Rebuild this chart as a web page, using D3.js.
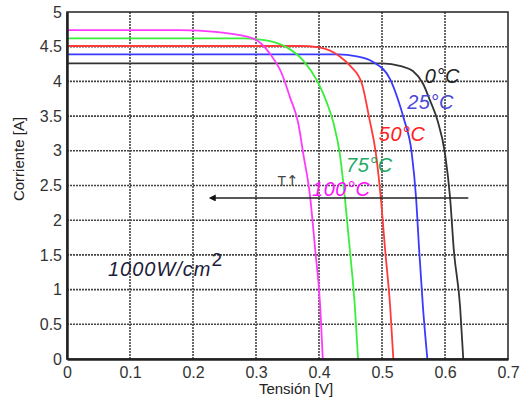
<!DOCTYPE html>
<html>
<head>
<meta charset="utf-8">
<script src="https://cdn.jsdelivr.net/npm/d3@7"></script>
<style>
  body { margin: 0; background: #fff; }
  svg text { font-family: "Liberation Sans", Arial, sans-serif; }
</style>
</head>
<body>
<div id="svg"></div>
<script>
// tick values and labels
var xTicks = [0, 0.1, 0.2, 0.3, 0.4, 0.5, 0.6, 0.7];
var xTickLabels = ["0", "0.1", "0.2", "0.3", "0.4", "0.5", "0.6", "0.7"];
var yTicks = [0, 0.5, 1, 1.5, 2, 2.5, 3, 3.5, 4, 4.5, 5];
var yTickLabels = ["0", "0.5", "1", "1.5", "2", "2.5", "3", "3.5", "4", "4.5", "5"];

// I-V curves, [V, A]
var temps = ["0°C", "25°C", "50°C", "75°C", "100°C"];
var curve0 = [[0,4.26],[0.50,4.26],[0.53,4.22],[0.549,4.15],[0.565,3.97],[0.576,3.73],[0.588,3.44],[0.600,2.96],[0.608,2.33],[0.614,1.57],[0.624,0.75],[0.629,0]];
var curve25 = [[0,4.39],[0.43,4.39],[0.46,4.36],[0.486,4.28],[0.513,4.03],[0.525,3.75],[0.535,3.45],[0.547,2.98],[0.554,2.33],[0.559,1.57],[0.565,0.75],[0.572,0]];
var curve50 = [[0,4.51],[0.37,4.51],[0.40,4.49],[0.433,4.36],[0.450,4.22],[0.468,3.97],[0.480,3.46],[0.490,2.98],[0.498,2.33],[0.505,1.57],[0.513,0.75],[0.518,0]];
var curve75 = [[0,4.62],[0.28,4.62],[0.316,4.59],[0.349,4.49],[0.375,4.30],[0.397,4.01],[0.413,3.68],[0.423,3.40],[0.433,2.96],[0.441,2.33],[0.449,1.57],[0.457,0.75],[0.462,0]];
var curve100 = [[0,4.74],[0.18,4.74],[0.24,4.71],[0.295,4.62],[0.322,4.40],[0.341,4.11],[0.354,3.77],[0.367,3.40],[0.375,2.96],[0.386,2.33],[0.394,1.57],[0.402,0.75],[0.406,0]];

// label anchor points [V, A]
var labelPos = [[0.568, 3.98], [0.540, 3.60], [0.495, 3.14], [0.443, 2.70], [0.389, 2.35]];
var arrowFrom = [0.637, 2.32], arrowTo = [0.216, 2.32];

var curves = [curve0, curve25, curve50, curve75, curve100];
var lineColors = ["#333333", "#3a3aff", "#ff3a3a", "#3aee3a", "#ff3aff"];
var textColors = ["#222222", "#4a48d8", "#ff2020", "#1faa66", "#ff10ff"];

var width = 521, height = 404;
var svg = d3.select("#svg").append("svg")
  .attr("width", width).attr("height", height);

var x = d3.scaleLinear().domain([0, 0.7]).range([67, 508]);
var y = d3.scaleLinear().domain([0, 5]).range([359, 12]);

// grid
var grid = svg.append("g");
grid.selectAll(".gx").data(xTicks.slice(1, -1)).enter().append("line")
  .attr("x1", function(d){ return x(d); }).attr("x2", function(d){ return x(d); })
  .attr("y1", y(0)).attr("y2", y(5))
  .attr("stroke", "#444").attr("stroke-width", 1.6).attr("stroke-dasharray", "2,1");
grid.selectAll(".gy").data(yTicks.slice(1, -1)).enter().append("line")
  .attr("y1", function(d){ return y(d); }).attr("y2", function(d){ return y(d); })
  .attr("x1", x(0)).attr("x2", x(0.7))
  .attr("stroke", "#444").attr("stroke-width", 1.6).attr("stroke-dasharray", "2,1");

// curves
var line = d3.line()
  .x(function(d){ return x(d[0]); })
  .y(function(d){ return y(d[1]); })
  .curve(d3.curveMonotoneX);

svg.selectAll(".curve").data(curves).enter().append("path")
  .attr("d", line)
  .attr("fill", "none")
  .attr("stroke", function(d, i){ return lineColors[i]; })
  .attr("stroke-width", 1.8);

// frame
svg.append("rect")
  .attr("x", x(0)).attr("y", y(5))
  .attr("width", x(0.7) - x(0)).attr("height", y(0) - y(5))
  .attr("fill", "none").attr("stroke", "#222").attr("stroke-width", 1.5);

// axes
var xAxis = svg.append("g")
  .attr("transform", "translate(0," + y(0) + ")")
  .call(d3.axisBottom(x).tickValues(xTicks)
    .tickFormat(function(d, i){ return xTickLabels[i]; })
    .tickSize(0).tickPadding(8));
xAxis.select(".domain").attr("stroke", "#222").attr("stroke-width", 2.5);
xAxis.selectAll("text").attr("font-size", 16).attr("fill", "#333");

var yAxis = svg.append("g")
  .attr("transform", "translate(" + x(0) + ",0)")
  .call(d3.axisLeft(y).tickValues(yTicks)
    .tickFormat(function(d, i){ return yTickLabels[i]; })
    .tickSize(0).tickPadding(5));
yAxis.select(".domain").attr("stroke", "#222").attr("stroke-width", 2.5);
yAxis.selectAll("text").attr("font-size", 16).attr("fill", "#333");

// axis titles
svg.append("text")
  .attr("x", 296).attr("y", 394)
  .attr("text-anchor", "middle")
  .attr("font-size", 15).attr("fill", "#222")
  .text("Tensión [V]");
svg.append("text")
  .attr("transform", "translate(24,159) rotate(-90)")
  .attr("text-anchor", "middle")
  .attr("font-size", 15).attr("fill", "#222")
  .text("Corriente [A]");

// temperature labels
svg.selectAll(".tlab").data(temps).enter().append("text")
  .attr("x", function(d, i){ return x(labelPos[i][0]); })
  .attr("y", function(d, i){ return y(labelPos[i][1]); })
  .attr("font-size", 20).attr("font-style", "italic")
  .attr("letter-spacing", 0.5)
  .attr("fill", function(d, i){ return textColors[i]; })
  .text(function(d){ return d; });

// arrow
svg.append("defs").append("marker")
  .attr("id", "head").attr("viewBox", "0 0 10 10")
  .attr("refX", 1).attr("refY", 5)
  .attr("markerWidth", 10).attr("markerHeight", 7)
  .attr("markerUnits", "userSpaceOnUse")
  .attr("orient", "auto")
  .append("path").attr("d", "M0,0L10,5L0,10Z").attr("fill", "#111");
svg.append("line")
  .attr("x1", x(arrowFrom[0])).attr("y1", y(arrowFrom[1]))
  .attr("x2", x(arrowTo[0]) + 12).attr("y2", y(arrowTo[1]))
  .attr("stroke", "#222").attr("stroke-width", 1.5)
  .attr("marker-end", "url(#head)");

var tUp = svg.append("text")
  .attr("x", x(0.334)).attr("y", y(2.5))
  .attr("font-size", 14).attr("fill", "#444");
tUp.append("tspan").text("T");
tUp.append("tspan").style("font-family", "'DejaVu Sans', sans-serif")
  .attr("font-size", 15).text("↑");

// irradiance note
var note = svg.append("text")
  .attr("x", x(0.065)).attr("y", y(1.2))
  .attr("font-size", 20).attr("font-style", "italic").attr("fill", "#1c1c3a")
  .attr("letter-spacing", 1);
note.append("tspan").text("1000W/cm");
note.append("tspan").attr("dy", -10).attr("font-size", 19).attr("font-style", "normal").text("2");
</script>
</body>
</html>
